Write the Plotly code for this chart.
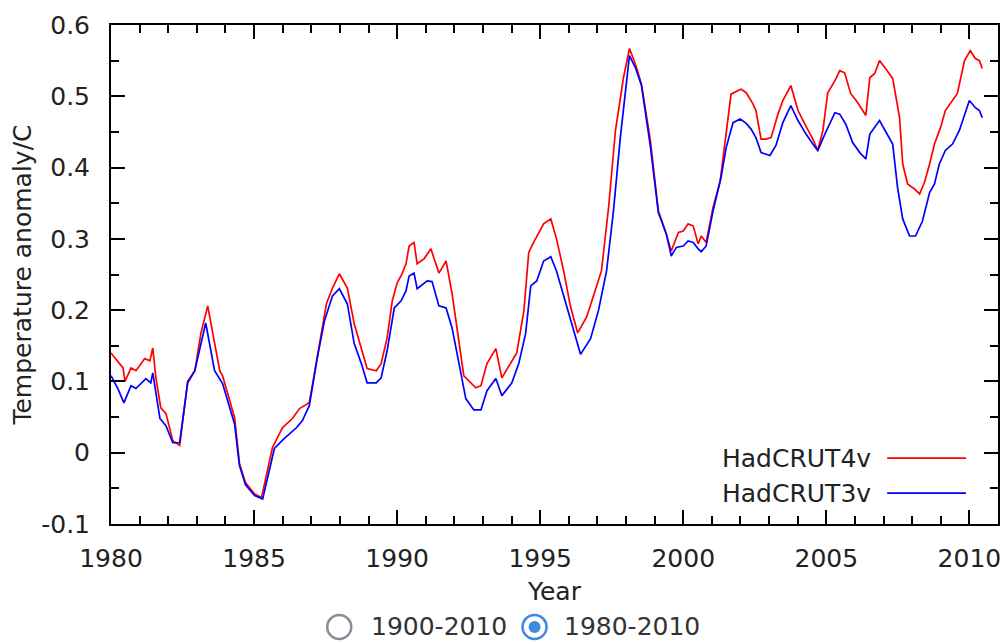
import plotly.graph_objects as go

# HadCRUT4v (red) – smoothed temperature anomaly
years_4v = [1980.00, 1980.24, 1980.42, 1980.49, 1980.70, 1980.87, 1981.18, 1981.36, 1981.46, 1981.57,
            1981.74, 1981.92, 1982.16, 1982.40, 1982.68, 1982.93, 1983.14, 1983.38, 1983.62, 1983.80,
            1983.90, 1984.32, 1984.49, 1984.70, 1985.02, 1985.26, 1985.64, 1985.99, 1986.34, 1986.59,
            1986.93, 1987.18, 1987.35, 1987.53, 1987.74, 1987.98, 1988.26, 1988.50, 1988.75, 1988.95,
            1989.27, 1989.44, 1989.65, 1989.83, 1990.00, 1990.17, 1990.31, 1990.42, 1990.59, 1990.70,
            1990.94, 1991.18, 1991.46, 1991.71, 1991.92, 1992.33, 1992.75, 1992.93, 1993.14, 1993.45,
            1993.66, 1993.97, 1994.18, 1994.43, 1994.60, 1994.77, 1995.12, 1995.37, 1995.57, 1995.82,
            1996.06, 1996.31, 1996.62, 1996.86, 1997.14, 1997.39, 1997.63, 1997.91, 1998.12, 1998.33,
            1998.54, 1998.85, 1999.13, 1999.37, 1999.58, 1999.83, 2000.00, 2000.17, 2000.35, 2000.52,
            2000.63, 2000.80, 2001.04, 2001.29, 2001.50, 2001.67, 2001.92, 2002.02, 2002.20, 2002.44,
            2002.54, 2002.72, 2002.89, 2003.07, 2003.31, 2003.48, 2003.76, 2004.01, 2004.25, 2004.53,
            2004.70, 2004.88, 2005.05, 2005.30, 2005.47, 2005.64, 2005.85, 2006.10, 2006.38, 2006.52,
            2006.69, 2006.86, 2007.07, 2007.32, 2007.56, 2007.67, 2007.84, 2008.08, 2008.26, 2008.43,
            2008.61, 2008.78, 2008.99, 2009.16, 2009.58, 2009.83, 2010.03, 2010.21, 2010.35, 2010.45]
anom_4v = [0.140, 0.128, 0.119, 0.100, 0.119, 0.115, 0.132, 0.129, 0.147, 0.105,
           0.063, 0.055, 0.017, 0.010, 0.100, 0.115, 0.167, 0.206, 0.157, 0.115,
           0.108, 0.049, -0.015, -0.042, -0.058, -0.063, 0.007, 0.035, 0.048, 0.062,
           0.070, 0.125, 0.167, 0.209, 0.231, 0.251, 0.231, 0.181, 0.147, 0.118,
           0.115, 0.125, 0.161, 0.213, 0.238, 0.251, 0.265, 0.290, 0.295, 0.265,
           0.272, 0.286, 0.252, 0.269, 0.223, 0.108, 0.091, 0.094, 0.125, 0.146,
           0.105, 0.125, 0.140, 0.199, 0.281, 0.295, 0.321, 0.328, 0.300, 0.255,
           0.205, 0.168, 0.190, 0.220, 0.255, 0.344, 0.452, 0.526, 0.567, 0.545,
           0.517, 0.438, 0.339, 0.311, 0.283, 0.309, 0.311, 0.321, 0.318, 0.293,
           0.304, 0.295, 0.344, 0.381, 0.447, 0.503, 0.508, 0.510, 0.505, 0.489,
           0.480, 0.440, 0.440, 0.442, 0.475, 0.494, 0.515, 0.480, 0.461, 0.440,
           0.424, 0.452, 0.505, 0.522, 0.536, 0.533, 0.504, 0.491, 0.473, 0.526,
           0.532, 0.550, 0.539, 0.525, 0.470, 0.405, 0.377, 0.370, 0.363, 0.379,
           0.405, 0.433, 0.456, 0.480, 0.504, 0.550, 0.564, 0.553, 0.550, 0.539]

# HadCRUT3v (blue)
years_3v = [1980.00, 1980.24, 1980.45, 1980.70, 1980.87, 1981.22, 1981.39, 1981.46, 1981.71, 1981.92,
            1982.16, 1982.40, 1982.68, 1982.93, 1983.31, 1983.62, 1983.90, 1984.32, 1984.49, 1984.70,
            1985.02, 1985.30, 1985.71, 1986.06, 1986.48, 1986.69, 1986.93, 1987.21, 1987.46, 1987.74,
            1987.98, 1988.26, 1988.50, 1988.75, 1988.95, 1989.27, 1989.44, 1989.65, 1989.90, 1990.14,
            1990.31, 1990.42, 1990.59, 1990.70, 1991.05, 1991.22, 1991.46, 1991.71, 1991.92, 1992.40,
            1992.68, 1992.93, 1993.14, 1993.45, 1993.66, 1994.01, 1994.25, 1994.49, 1994.67, 1994.88,
            1995.12, 1995.37, 1995.57, 1995.82, 1996.06, 1996.41, 1996.76, 1997.04, 1997.32, 1997.56,
            1997.80, 1998.12, 1998.33, 1998.54, 1998.85, 1999.13, 1999.41, 1999.58, 1999.76, 2000.00,
            2000.17, 2000.35, 2000.52, 2000.63, 2000.80, 2001.04, 2001.32, 2001.50, 2001.74, 2001.99,
            2002.20, 2002.37, 2002.54, 2002.72, 2003.03, 2003.24, 2003.48, 2003.76, 2004.01, 2004.29,
            2004.53, 2004.70, 2004.95, 2005.30, 2005.47, 2005.68, 2005.92, 2006.17, 2006.38, 2006.52,
            2006.86, 2007.14, 2007.32, 2007.49, 2007.67, 2007.91, 2008.12, 2008.36, 2008.61, 2008.78,
            2008.95, 2009.16, 2009.41, 2009.65, 2010.00, 2010.21, 2010.35, 2010.45]
anom_3v = [0.108, 0.090, 0.070, 0.094, 0.090, 0.104, 0.098, 0.112, 0.048, 0.038,
           0.014, 0.014, 0.098, 0.115, 0.182, 0.115, 0.097, 0.040, -0.018, -0.045,
           -0.060, -0.065, 0.006, 0.020, 0.035, 0.045, 0.066, 0.133, 0.185, 0.220,
           0.230, 0.209, 0.153, 0.125, 0.098, 0.098, 0.105, 0.143, 0.203, 0.213,
           0.227, 0.248, 0.252, 0.230, 0.241, 0.240, 0.206, 0.203, 0.175, 0.076,
           0.060, 0.060, 0.087, 0.104, 0.080, 0.098, 0.125, 0.167, 0.234, 0.241,
           0.269, 0.275, 0.255, 0.220, 0.190, 0.138, 0.160, 0.200, 0.255, 0.339,
           0.442, 0.557, 0.540, 0.515, 0.430, 0.337, 0.307, 0.276, 0.288, 0.290,
           0.297, 0.295, 0.286, 0.282, 0.290, 0.339, 0.386, 0.428, 0.463, 0.468,
           0.462, 0.454, 0.442, 0.421, 0.417, 0.431, 0.463, 0.487, 0.466, 0.447,
           0.433, 0.424, 0.447, 0.477, 0.475, 0.461, 0.435, 0.421, 0.412, 0.447,
           0.466, 0.447, 0.433, 0.372, 0.328, 0.304, 0.304, 0.325, 0.365, 0.377,
           0.405, 0.424, 0.433, 0.452, 0.494, 0.484, 0.480, 0.470]

series_names = ["HadCRUT4v", "HadCRUT3v"]
series_colors = ["#ff0000", "#0000ff"]
x_ticks = [1980, 1985, 1990, 1995, 2000, 2005, 2010]
y_ticks = [-0.1, 0, 0.1, 0.2, 0.3, 0.4, 0.5, 0.6]
y_tick_labels = ["-0.1", "0", "0.1", "0.2", "0.3", "0.4", "0.5", "0.6"]
range_options = ["1900-2010", "1980-2010"]

FONT = "DejaVu Sans"
FS = 25
TXT = "#222222"

fig = go.Figure()
fig.add_trace(go.Scatter(x=years_4v, y=anom_4v, mode="lines", name=series_names[0],
                         line=dict(color=series_colors[0], width=1.7), showlegend=False))
fig.add_trace(go.Scatter(x=years_3v, y=anom_3v, mode="lines", name=series_names[1],
                         line=dict(color=series_colors[1], width=1.7), showlegend=False))

axis_common = dict(showgrid=False, zeroline=False, showline=True, linecolor="black", linewidth=2,
                   mirror="allticks", ticks="inside", tickcolor="black", tickwidth=1.5,
                   ticklen=14, tickfont=dict(family=FONT, size=FS, color=TXT))

fig.update_xaxes(range=[1980, 2011.0], tickvals=x_ticks, ticktext=[str(v) for v in x_ticks],
                 minor=dict(dtick=1, ticks="inside", ticklen=8, tickcolor="black", tickwidth=1.5),
                 title=dict(text="Year", font=dict(family=FONT, size=FS, color=TXT), standoff=10),
                 ticklabelstandoff=11, **axis_common)
fig.update_yaxes(range=[-0.1, 0.6], tickvals=y_ticks, ticktext=y_tick_labels,
                 minor=dict(dtick=0.05, ticks="inside", ticklen=8, tickcolor="black", tickwidth=1.5),
                 title=dict(text="Temperature anomaly/C", font=dict(family=FONT, size=FS, color=TXT), standoff=2),
                 ticklabelstandoff=14, **axis_common)

annotations = []
shapes = []
# custom legend (text left of line sample, gnuplot style)
leg_y = [0.132, 0.062]
for name, color, yy in zip(series_names, series_colors, leg_y):
    annotations.append(dict(xref="paper", yref="paper", x=0.859, y=yy, text=name, showarrow=False,
                            xanchor="right", yanchor="middle", font=dict(family=FONT, size=FS, color=TXT)))
    shapes.append(dict(type="line", xref="paper", yref="paper", x0=0.875, x1=0.964, y0=yy, y1=yy,
                       line=dict(color=color, width=1.7)))

# radio buttons below the chart
radio_x = [0.2573, 0.4775]
text_x = [0.291, 0.508]
ry = -0.2064
for i, (label, cx, tx) in enumerate(zip(range_options, radio_x, text_x)):
    if i == 0:
        shapes.append(dict(type="circle", xref="paper", yref="paper", xsizemode="pixel", ysizemode="pixel",
                           xanchor=cx, yanchor=ry, x0=-12, x1=12, y0=-12, y1=12,
                           line=dict(color="#8c8c99", width=2.5), fillcolor="white"))
    else:
        shapes.append(dict(type="circle", xref="paper", yref="paper", xsizemode="pixel", ysizemode="pixel",
                           xanchor=cx, yanchor=ry, x0=-12, x1=12, y0=-12, y1=12,
                           line=dict(color="#3d8ae0", width=2.5), fillcolor="white"))
        shapes.append(dict(type="circle", xref="paper", yref="paper", xsizemode="pixel", ysizemode="pixel",
                           xanchor=cx, yanchor=ry, x0=-6, x1=6, y0=-6, y1=6,
                           line=dict(color="#3d8ae0", width=0), fillcolor="#3d8ae0"))
    annotations.append(dict(xref="paper", yref="paper", x=tx, y=ry, text=label, showarrow=False,
                            xanchor="left", yanchor="middle", font=dict(family=FONT, size=FS, color="#333333")))

fig.update_layout(width=1008, height=641, margin=dict(l=111, r=7, t=25, b=117),
                  paper_bgcolor="white", plot_bgcolor="white",
                  annotations=annotations, shapes=shapes)

fig.write_html("out.html", config={"displayModeBar": False},
               post_script="document.body.style.margin='0';document.body.style.overflow='hidden';")
